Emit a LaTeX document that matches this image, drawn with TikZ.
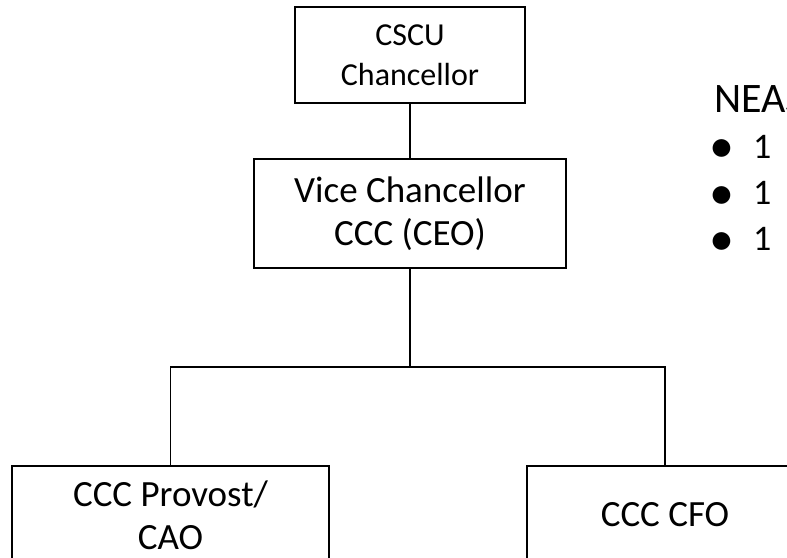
\documentclass[tikz,border=0pt]{standalone}
\usepackage{fontspec}
\setmainfont{Carlito}

\begin{document}
\begin{tikzpicture}[x=1pt, y=-1pt,
          orgbox/.style={draw, line width=1.8pt, inner sep=0pt, align=center,
                         font=\fontsize{37}{43}\selectfont},
          conn/.style={line width=1.8pt},
          side/.style={font=\fontsize{36}{43}\selectfont, inner sep=0pt, anchor=base west},
          dot/.style={font=\fontsize{50}{50}\selectfont, inner sep=0pt}
        ]
        \useasboundingbox (0,0) rectangle (787,557);
        \clip (0,0) rectangle (787,557);
        \fill[white] (0,0) rectangle (787,557);

        % top of the chart
        \node[orgbox, minimum width=230pt, minimum height=96pt,
              font=\fontsize{32}{39.5}\selectfont] (cscu) at (410,55)
              {CSCU\\Chancellor};
        \node[orgbox, minimum width=312pt, minimum height=109pt] (vice) at (410,213.5)
              {Vice Chancellor\\CCC (CEO)};

        % second level
        \node[orgbox, minimum width=317pt, minimum height=98pt] (prov) at (170.5,515)
              {CCC Provost/\\CAO};
        \node[orgbox, minimum width=276pt, minimum height=98pt] (cfo) at (665,515)
              {CCC CFO};
        \coordinate (bar) at (410,367);

        \draw[conn] (cscu) -- (vice);
        \draw[conn] (vice.south) -- (bar);
        \draw[conn] (prov.north) -- (prov.north |- bar) -- (cfo.north |- bar) -- (cfo.north);

        % side list
        \node[side, font=\fontsize{42}{48}\selectfont] (nea) at (714,112.5) {NEAS};
        \node[dot] (d1) at (722,151.5) {•};
        \node[side] (n1) at (753,158) {1};
        \node[dot] (d2) at (722,198) {•};
        \node[side] (n2) at (753,204.5) {1};
        \node[dot] (d3) at (722,244) {•};
        \node[side] (n3) at (753,250.5) {1};
      \end{tikzpicture}
\end{document}
